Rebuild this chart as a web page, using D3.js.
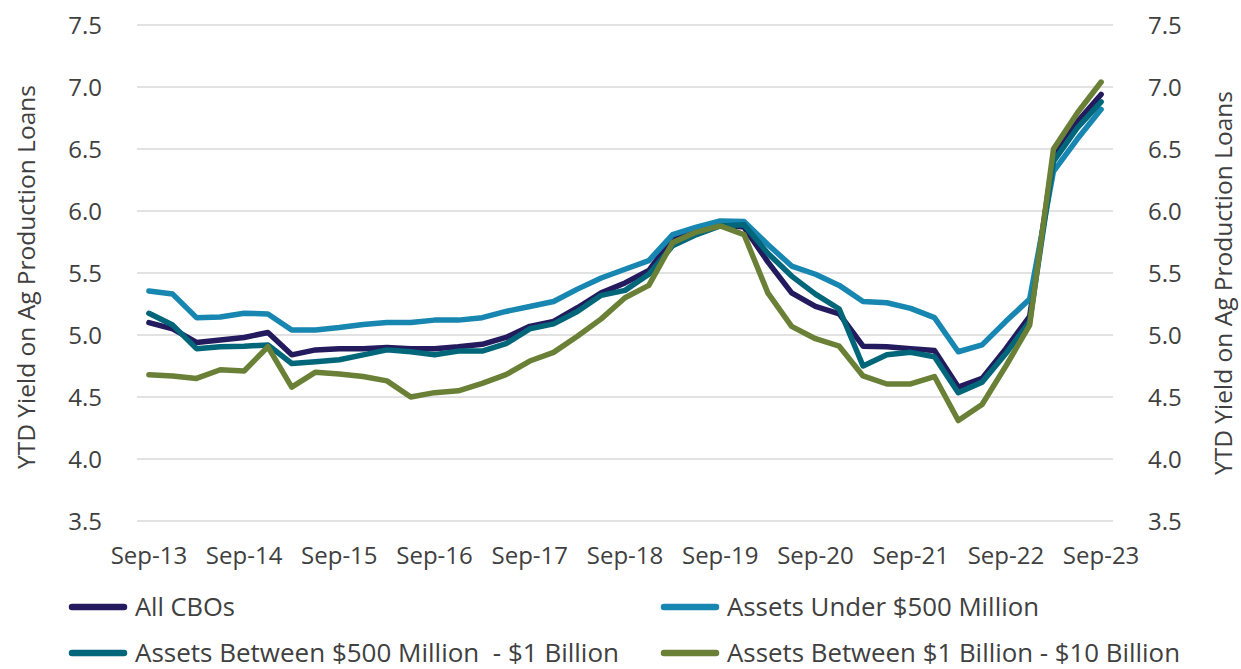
<!DOCTYPE html>
<html>
<head>
<meta charset="utf-8">
<script src="https://cdn.jsdelivr.net/npm/d3@7"></script>
<style>
  body { margin: 0; background: #fff; }
  text { font-family: "Open Sans", sans-serif; fill: #404040; }
</style>
</head>
<body>
<script>
// quarterly categories, Sep-13 .. Sep-23
const quarters = [
  "Sep-13","Dec-13","Mar-14","Jun-14","Sep-14","Dec-14","Mar-15","Jun-15",
  "Sep-15","Dec-15","Mar-16","Jun-16","Sep-16","Dec-16","Mar-17","Jun-17",
  "Sep-17","Dec-17","Mar-18","Jun-18","Sep-18","Dec-18","Mar-19","Jun-19",
  "Sep-19","Dec-19","Mar-20","Jun-20","Sep-20","Dec-20","Mar-21","Jun-21",
  "Sep-21","Dec-21","Mar-22","Jun-22","Sep-22","Dec-22","Mar-23","Jun-23",
  "Sep-23"
];
const xTickLabels = ["Sep-13","Sep-14","Sep-15","Sep-16","Sep-17","Sep-18",
                     "Sep-19","Sep-20","Sep-21","Sep-22","Sep-23"];
const yTicks = [3.5, 4.0, 4.5, 5.0, 5.5, 6.0, 6.5, 7.0, 7.5];

const seriesNames = [
  "All CBOs",
  "Assets Under $500 Million",
  "Assets Between $500 Million  - $1 Billion",
  "Assets Between $1 Billion - $10 Billion"
];

const allCBOs = [
  5.10, 5.05, 4.94, 4.96, 4.98, 5.02, 4.84, 4.88, 4.89, 4.89, 4.90, 4.89,
  4.89, 4.905, 4.925, 4.98, 5.07, 5.11, 5.22, 5.34, 5.42, 5.52, 5.78, 5.85,
  5.89, 5.87, 5.59, 5.34, 5.23, 5.17, 4.91, 4.905, 4.89, 4.875, 4.58, 4.65,
  4.89, 5.15, 6.44, 6.72, 6.94
];
const under500M = [
  5.355, 5.33, 5.14, 5.145, 5.175, 5.17, 5.04, 5.04, 5.06, 5.085, 5.10, 5.10,
  5.12, 5.12, 5.14, 5.19, 5.23, 5.27, 5.37, 5.46, 5.53, 5.60, 5.81, 5.87,
  5.92, 5.915, 5.73, 5.556, 5.49, 5.40, 5.27, 5.26, 5.215, 5.14, 4.865, 4.92,
  5.11, 5.29, 6.32, 6.58, 6.82
];
const between500M1B = [
  5.175, 5.08, 4.89, 4.905, 4.91, 4.92, 4.77, 4.785, 4.80, 4.84, 4.88, 4.865,
  4.84, 4.87, 4.87, 4.93, 5.05, 5.09, 5.19, 5.32, 5.36, 5.49, 5.72, 5.81,
  5.88, 5.89, 5.66, 5.475, 5.33, 5.21, 4.75, 4.84, 4.86, 4.825, 4.535, 4.62,
  4.85, 5.11, 6.40, 6.67, 6.88
];
const between1B10B = [
  4.68, 4.67, 4.65, 4.72, 4.71, 4.905, 4.58, 4.70, 4.685, 4.665, 4.63, 4.50,
  4.535, 4.55, 4.61, 4.68, 4.79, 4.86, 4.99, 5.13, 5.30, 5.40, 5.745, 5.83,
  5.88, 5.81, 5.34, 5.07, 4.97, 4.91, 4.67, 4.605, 4.605, 4.665, 4.31, 4.44,
  4.75, 5.08, 6.50, 6.79, 7.04
];

const colors = ["#241b5f", "#1786b0", "#00667a", "#6a8037"];

ShowLineChart();

function ShowLineChart() {
  const margin = {top: 25, right: 128, bottom: 148, left: 137};
  const width = 1241 - margin.left - margin.right;
  const height = 669 - margin.top - margin.bottom;

  const root = d3.select("body").append("svg")
     .attr("width", 1241)
     .attr("height", 669);
  const svg = root.append("g")
     .attr("transform", "translate(" + margin.left + "," + margin.top + ")");

  const x = d3.scalePoint()
     .domain(quarters)
     .range([0, width])
     .padding(0.5);

  const y = d3.scaleLinear()
     .domain([3.5, 7.5])
     .range([height, 0]);

  // gridlines
  svg.append("g")
     .selectAll("line")
     .data(yTicks)
     .enter()
     .append("line")
     .attr("x1", 0)
     .attr("x2", width)
     .attr("y1", d => y(d))
     .attr("y2", d => y(d))
     .style("stroke", "#d9d9d9")
     .style("stroke-width", 1.5);

  // left axis labels
  svg.append("g")
     .selectAll("text")
     .data(yTicks)
     .enter()
     .append("text")
     .attr("x", -35)
     .attr("y", d => y(d))
     .attr("dy", "0.36em")
     .style("text-anchor", "end")
     .style("font-size", "24px")
     .text(d => d.toFixed(1));

  // right axis labels
  svg.append("g")
     .selectAll("text")
     .data(yTicks)
     .enter()
     .append("text")
     .attr("x", width + 35)
     .attr("y", d => y(d))
     .attr("dy", "0.36em")
     .style("text-anchor", "start")
     .style("font-size", "24px")
     .text(d => d.toFixed(1));

  // x labels
  svg.append("g")
     .selectAll("text")
     .data(xTickLabels)
     .enter()
     .append("text")
     .attr("x", d => x(d))
     .attr("y", height + 43)
     .style("text-anchor", "middle")
     .style("font-size", "24px")
     .text(d => d);

  // Y axis titles
  root.append("text")
     .attr("transform", "translate(35," + (margin.top + height / 2 + 4) + ") rotate(-90)")
     .style("text-anchor", "middle")
     .style("font-size", "24.5px")
     .text("YTD Yield on Ag Production Loans");

  root.append("text")
     .attr("transform", "translate(1232," + (margin.top + height / 2 + 10) + ") rotate(-90)")
     .style("text-anchor", "middle")
     .style("font-size", "24.5px")
     .text("YTD Yield on Ag Production Loans");

  // lines
  const series = [allCBOs, under500M, between500M1B, between1B10B];
  const line = d3.line()
     .x((d, i) => x(quarters[i]))
     .y(d => y(d));

  svg.selectAll("path.series")
     .data(series)
     .enter()
     .append("path")
     .attr("class", "series")
     .attr("d", d => line(d))
     .style("fill", "none")
     .style("stroke", (d, i) => colors[i])
     .style("stroke-width", 5.5)
     .style("stroke-linejoin", "round")
     .style("stroke-linecap", "round");

  // legend
  const legendPos = [
    {x: 70, y: 607, w: 100},
    {x: 662, y: 607, w: 312},
    {x: 70, y: 653, w: 484},
    {x: 662, y: 653, w: 453}
  ];
  const legend = root.append("g")
     .selectAll("g")
     .data(seriesNames)
     .enter()
     .append("g")
     .attr("transform", (d, i) => "translate(" + legendPos[i].x + "," + legendPos[i].y + ")");

  legend.append("line")
     .attr("x1", 2)
     .attr("x2", 54)
     .style("stroke", (d, i) => colors[i])
     .style("stroke-width", 6.5)
     .style("stroke-linecap", "round");

  legend.append("text")
     .attr("x", 65)
     .attr("dy", "0.36em")
     .attr("textLength", (d, i) => legendPos[i].w)
     .attr("lengthAdjust", "spacingAndGlyphs")
     .style("white-space", "pre")
     .style("font-size", "25px")
     .text(d => d);
}
</script>
</body>
</html>
